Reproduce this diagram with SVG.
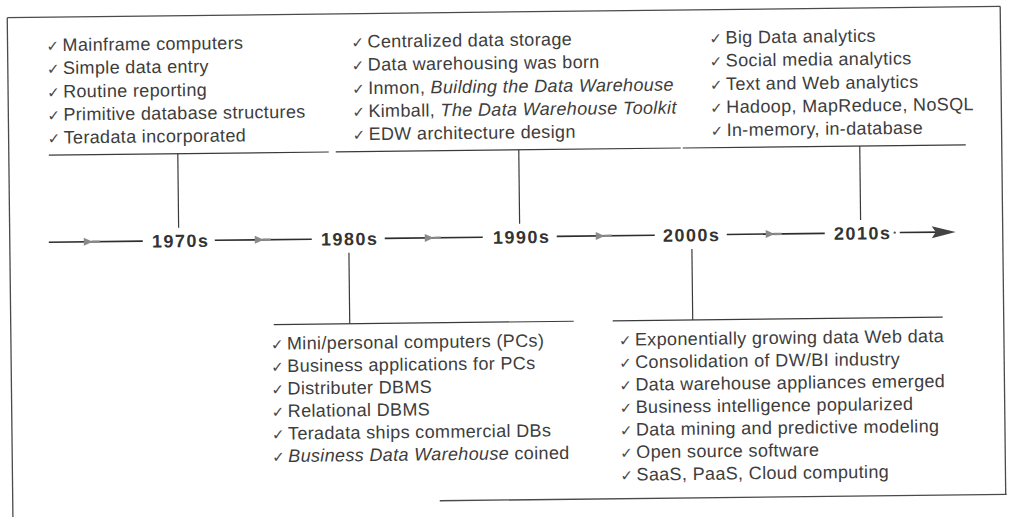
<svg xmlns="http://www.w3.org/2000/svg" width="1012" height="517" viewBox="0 0 1012 517">
<defs>
<style>
.bg{fill:#ffffff}
.frame{stroke:#4a4a4a;stroke-width:1.3;fill:none}
.rule{stroke:#3a3a3a;stroke-width:1.2;fill:none}
.tl{stroke:#2e2e2e;stroke-width:1.6;fill:none}
.mk{fill:#8a8a8a}
.it{font-family:"Liberation Sans",Arial,sans-serif;font-size:18px;fill:#3d3d3d;letter-spacing:0.35px}
.ck{font-family:"DejaVu Sans",sans-serif;font-size:15px;fill:#4a4a4a;letter-spacing:0}
.em{font-style:italic}
.yr{font-family:"Liberation Sans",Arial,sans-serif;font-size:18px;font-weight:bold;fill:#333333;letter-spacing:1.5px;text-anchor:middle}
</style>
</defs>
<rect class="bg" x="0" y="0" width="1012" height="517"/>
<g transform="rotate(-0.65 506 258)">
<g id="frame">
<line class="frame" x1="10" y1="12" x2="1003" y2="12"/>
<line class="frame" x1="10" y1="12" x2="10" y2="530"/>
<line class="frame" x1="1003" y1="12" x2="1003" y2="500"/>
<line class="frame" x1="437" y1="500" x2="1004" y2="500"/>
</g>
<g id="connectors">
<line class="rule" x1="50" y1="150" x2="330" y2="150"/>
<line class="rule" x1="337" y1="150" x2="682" y2="150"/>
<line class="rule" x1="684" y1="150" x2="967" y2="150"/>
<line class="rule" x1="273" y1="322" x2="573" y2="322"/>
<line class="rule" x1="612" y1="322" x2="942" y2="322"/>
<line class="rule" x1="179" y1="150" x2="179" y2="224"/>
<line class="rule" x1="520" y1="150" x2="520" y2="224"/>
<line class="rule" x1="861" y1="150" x2="861" y2="224"/>
<line class="rule" x1="349" y1="251" x2="349" y2="322"/>
<line class="rule" x1="692" y1="251" x2="692" y2="322"/>
<line class="tl" x1="49" y1="237" x2="143" y2="237"/>
<line class="tl" x1="215" y1="237" x2="312" y2="237"/>
<line class="tl" x1="385" y1="237" x2="483" y2="237"/>
<line class="tl" x1="557" y1="237" x2="655" y2="237"/>
<line class="tl" x1="727" y1="237" x2="825" y2="237"/>
<circle cx="895" cy="237" r="1.2" fill="#555"/>
<line class="tl" x1="900" y1="237" x2="940" y2="237"/>
<polygon points="932,231 956,237 932,243 936,237" fill="#444"/>
<g class="mk">
<polygon points="84,233 93,237 84,241"/><rect x="92" y="235.8" width="8" height="2.4"/>
<polygon points="255,233 264,237 255,241"/><rect x="263" y="235.8" width="8" height="2.4"/>
<polygon points="425,233 434,237 425,241"/><rect x="433" y="235.8" width="8" height="2.4"/>
<polygon points="596,233 605,237 596,241"/><rect x="604" y="235.8" width="8" height="2.4"/>
<polygon points="766,233 775,237 766,241"/><rect x="774" y="235.8" width="8" height="2.4"/>
</g>
</g>
<g id="y1970"><text class="yr" x="181" y="243.5">1970s</text></g>
<g id="y1980"><text class="yr" x="350" y="243.5">1980s</text></g>
<g id="y1990"><text class="yr" x="522" y="243.5">1990s</text></g>
<g id="y2000"><text class="yr" x="692" y="243.5">2000s</text></g>
<g id="y2010"><text class="yr" x="863" y="243.5">2010s</text></g>
<g id="n1970">
<text class="it" y="46"><tspan class="ck" x="49">✓</tspan><tspan x="65">Mainframe computers</tspan></text>
<text class="it" y="69"><tspan class="ck" x="49">✓</tspan><tspan x="65">Simple data entry</tspan></text>
<text class="it" y="92.5"><tspan class="ck" x="49">✓</tspan><tspan x="65">Routine reporting</tspan></text>
<text class="it" y="115.5"><tspan class="ck" x="49">✓</tspan><tspan x="65">Primitive database structures</tspan></text>
<text class="it" y="138.5"><tspan class="ck" x="49">✓</tspan><tspan x="65">Teradata incorporated</tspan></text>
</g>
<g id="n1990">
<text class="it" y="46"><tspan class="ck" x="354">✓</tspan><tspan x="370">Centralized data storage</tspan></text>
<text class="it" y="69"><tspan class="ck" x="354">✓</tspan><tspan x="370">Data warehousing was born</tspan></text>
<text class="it" y="92.5"><tspan class="ck" x="354">✓</tspan><tspan x="370">Inmon, </tspan><tspan class="em">Building the Data Warehouse</tspan></text>
<text class="it" y="115.5"><tspan class="ck" x="354">✓</tspan><tspan x="370">Kimball, </tspan><tspan class="em">The Data Warehouse Toolkit</tspan></text>
<text class="it" y="138.5"><tspan class="ck" x="354">✓</tspan><tspan x="370">EDW architecture design</tspan></text>
</g>
<g id="n2010">
<text class="it" y="46"><tspan class="ck" x="712">✓</tspan><tspan x="728">Big Data analytics</tspan></text>
<text class="it" y="69"><tspan class="ck" x="712">✓</tspan><tspan x="728">Social media analytics</tspan></text>
<text class="it" y="92.5"><tspan class="ck" x="712">✓</tspan><tspan x="728">Text and Web analytics</tspan></text>
<text class="it" y="115.5"><tspan class="ck" x="712">✓</tspan><tspan x="728">Hadoop, MapReduce, NoSQL</tspan></text>
<text class="it" y="138.5"><tspan class="ck" x="712">✓</tspan><tspan x="728">In-memory, in-database</tspan></text>
</g>
<g id="n1980">
<text class="it" y="347"><tspan class="ck" x="270">✓</tspan><tspan x="286">Mini/personal computers (PCs)</tspan></text>
<text class="it" y="369.5"><tspan class="ck" x="270">✓</tspan><tspan x="286">Business applications for PCs</tspan></text>
<text class="it" y="392"><tspan class="ck" x="270">✓</tspan><tspan x="286">Distributer DBMS</tspan></text>
<text class="it" y="414.5"><tspan class="ck" x="270">✓</tspan><tspan x="286">Relational DBMS</tspan></text>
<text class="it" y="437"><tspan class="ck" x="270">✓</tspan><tspan x="286">Teradata ships commercial DBs</tspan></text>
<text class="it" y="459.5"><tspan class="ck" x="270">✓</tspan><tspan x="286" class="em">Business Data Warehouse</tspan><tspan> coined</tspan></text>
</g>
<g id="n2000">
<text class="it" y="347"><tspan class="ck" x="618">✓</tspan><tspan x="634">Exponentially growing data Web data</tspan></text>
<text class="it" y="369.5"><tspan class="ck" x="618">✓</tspan><tspan x="634">Consolidation of DW/BI industry</tspan></text>
<text class="it" y="392"><tspan class="ck" x="618">✓</tspan><tspan x="634">Data warehouse appliances emerged</tspan></text>
<text class="it" y="414.5"><tspan class="ck" x="618">✓</tspan><tspan x="634">Business intelligence popularized</tspan></text>
<text class="it" y="437"><tspan class="ck" x="618">✓</tspan><tspan x="634">Data mining and predictive modeling</tspan></text>
<text class="it" y="459.5"><tspan class="ck" x="618">✓</tspan><tspan x="634">Open source software</tspan></text>
<text class="it" y="482"><tspan class="ck" x="618">✓</tspan><tspan x="634">SaaS, PaaS, Cloud computing</tspan></text>
</g>
</g>
</svg>
